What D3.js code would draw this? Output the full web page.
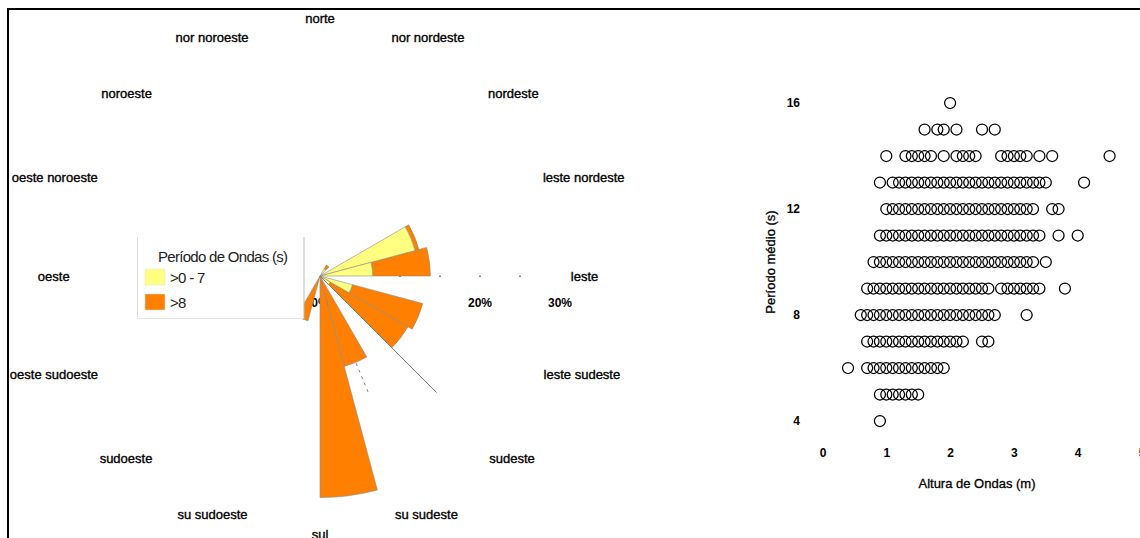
<!DOCTYPE html>
<html><head><meta charset="utf-8">
<script src="https://cdn.jsdelivr.net/npm/d3@7"></script>
<style>
body{margin:0;background:#fff;}
svg{display:block;font-family:"Liberation Sans",Arial,sans-serif;}
</style>
</head><body>
<svg id="c" width="1140" height="538"></svg>
<script>
// ---------- Rosa de ondas (setores de 15°, início de cada setor em graus) ----------
const setoresInicio = [0,15,30,45,60,75,90,105,120,135,150,165,180,195,210,225,240,255,270,285,300,315,330,345];
const pctAte7   = [0,0,1.0,0,12.3,6.6,0,4.2,1.5,0,0,0,0,0,0,0,0,0,0,0,0,0,0,0];
const pctAcima8 = [0,0,0.6,0,0.5,7.2,0,9.1,11.2,0,11.7,27.7,0,5.8,0,0,0,0,0,0,0,0,0,0];
const direcoes = ["norte","nor nordeste","nordeste","leste nordeste","leste","leste sudeste","sudeste","su sudeste",
                  "sul","su sudoeste","sudoeste","oeste sudoeste","oeste","oeste noroeste","noroeste","nor noroeste"];
const ticksRadiais = [0,20,30];
const marcasRadiais = [10,15,20,25];
const guiasDir = [135,157.5];
const guiasDe  = [0,11.8];
const guiasAte = [20.6,15.9];
const legendaTitulo = "Período de Ondas (s)";
const classes = [">0 - 7", ">8"];

// ---------- Dispersão: período médio (s) x altura de ondas (m) ----------
const periodos = [4,5,6,7,8,9,10,11,12,13,14,15,16];
const alturas = [
  [0.9],
  [0.9,1.0,1.1,1.2,1.3,1.4,1.5],
  [0.4,0.7,0.8,0.9,1.0,1.1,1.2,1.3,1.4,1.5,1.6,1.7,1.8,1.9],
  [0.7,0.8,0.9,1.0,1.1,1.2,1.3,1.4,1.5,1.6,1.7,1.8,1.9,2.0,2.1,2.2,2.5,2.6],
  [0.6,0.7,0.8,0.9,1.0,1.1,1.2,1.3,1.4,1.5,1.6,1.7,1.8,1.9,2.0,2.1,2.2,2.3,2.4,2.5,2.6,2.7,3.2],
  [0.7,0.8,0.9,1.0,1.1,1.2,1.3,1.4,1.5,1.6,1.7,1.8,1.9,2.0,2.1,2.2,2.3,2.4,2.5,2.6,2.8,2.9,3.0,3.1,3.2,3.3,3.4,3.8],
  [0.8,0.9,1.0,1.1,1.2,1.3,1.4,1.5,1.6,1.7,1.8,1.9,2.0,2.1,2.2,2.3,2.4,2.5,2.6,2.7,2.8,2.9,3.0,3.1,3.2,3.3,3.5],
  [0.9,1.0,1.1,1.2,1.3,1.4,1.5,1.6,1.7,1.8,1.9,2.0,2.1,2.2,2.3,2.4,2.5,2.6,2.7,2.8,2.9,3.0,3.1,3.2,3.3,3.4,3.7,4.0],
  [1.0,1.1,1.2,1.3,1.4,1.5,1.6,1.7,1.8,1.9,2.0,2.1,2.2,2.3,2.4,2.5,2.6,2.7,2.8,2.9,3.0,3.1,3.2,3.3,3.6,3.7],
  [0.9,1.1,1.2,1.3,1.4,1.5,1.6,1.7,1.8,1.9,2.0,2.1,2.2,2.3,2.4,2.5,2.6,2.7,2.8,2.9,3.0,3.1,3.2,3.3,3.4,3.5,4.1],
  [1.0,1.3,1.4,1.5,1.6,1.7,1.9,2.1,2.2,2.3,2.4,2.8,2.9,3.0,3.1,3.2,3.4,3.6,4.5],
  [1.6,1.8,1.9,2.1,2.5,2.7],
  [2.0]
];
const ticksX = [0,1,2,3,4,5];
const ticksY = [4,8,12,16];
const tituloX = "Altura de Ondas (m)";
const tituloY = "Período médio (s)";

const svg = d3.select("#c");
const cores = ["#FFFF80", "#FF8000"];

// ===== Rosa =====
const cx = 320, cy = 276;
const r = d3.scaleLinear().domain([0, 1]).range([0, 8]);
const rad = d => d * Math.PI / 180;
const rosa = svg.append("g");

// rótulos do eixo radial (abaixo dos setores)
rosa.selectAll("text.tr").data(ticksRadiais).join("text")
  .attr("x", d => cx + r(d)).attr("y", cy + 31)
  .attr("text-anchor", "middle").attr("font-size", 12).attr("font-weight", "bold")
  .text(d => d + "%");
rosa.selectAll("rect.mr").data(marcasRadiais).join("rect")
  .attr("x", d => cx + r(d) - 1).attr("y", cy - 0.5).attr("width", 2).attr("height", 1.5)
  .attr("fill", "#888");

const arc = d3.arc();
const setores = setoresInicio.map((s, i) => ({s, a: pctAte7[i], b: pctAcima8[i]}));
// camada >0-7 (interna) e >8 (externa, empilhada)
rosa.selectAll("path.s8").data(setores.filter(d => d.b > 0)).join("path")
  .attr("transform", `translate(${cx},${cy})`)
  .attr("d", d => arc({innerRadius: r(d.a), outerRadius: r(d.a + d.b), startAngle: rad(d.s), endAngle: rad(d.s + 15)}))
  .attr("fill", cores[1]).attr("stroke", "#8a8a8a").attr("stroke-width", 0.6);
rosa.selectAll("path.s7").data(setores.filter(d => d.a > 0)).join("path")
  .attr("transform", `translate(${cx},${cy})`)
  .attr("d", d => arc({innerRadius: 0, outerRadius: r(d.a), startAngle: rad(d.s), endAngle: rad(d.s + 15)}))
  .attr("fill", cores[0]).attr("stroke", "#8a8a8a").attr("stroke-width", 0.6);

// linhas guia
guiasDir.forEach((g, i) => {
  const t = rad(g);
  rosa.append("line")
    .attr("x1", cx + r(guiasDe[i]) * Math.sin(t)).attr("y1", cy - r(guiasDe[i]) * Math.cos(t))
    .attr("x2", cx + r(guiasAte[i]) * Math.sin(t)).attr("y2", cy - r(guiasAte[i]) * Math.cos(t))
    .attr("stroke", "#808080").attr("stroke-width", 1)
    .attr("stroke-dasharray", i === 1 ? "3,4" : null);
});

// legenda
const lg = svg.append("g");
lg.append("rect").attr("x", 137).attr("y", 237).attr("width", 167).attr("height", 82).attr("fill", "#fff");
lg.append("line").attr("x1", 137.5).attr("y1", 237).attr("x2", 137.5).attr("y2", 319).attr("stroke", "#ddd");
lg.append("line").attr("x1", 137).attr("y1", 318.5).attr("x2", 304).attr("y2", 318.5).attr("stroke", "#e6e6e6");
lg.append("line").attr("x1", 304).attr("y1", 237).attr("x2", 304).attr("y2", 319).attr("stroke", "#bbb");
lg.append("text").attr("x", 158).attr("y", 262).attr("font-size", 15).attr("letter-spacing", -0.7)
  .attr("fill", "#222").text(legendaTitulo);
classes.forEach((c, i) => {
  lg.append("rect").attr("x", 145).attr("y", 269 + i * 25).attr("width", 20).attr("height", 16)
    .attr("fill", cores[i]).attr("stroke", "#ddd").attr("stroke-width", 0.5);
  lg.append("text").attr("x", 170).attr("y", 283 + i * 25).attr("font-size", 15).attr("letter-spacing", -0.7)
    .attr("fill", "#222").text(c);
});

// rótulos das direções
direcoes.forEach((d, i) => {
  const t = rad(i * 22.5);
  const tx = svg.append("text").attr("font-size", 13).attr("text-anchor", "middle")
    .attr("dominant-baseline", "central").attr("stroke", "#000").attr("stroke-width", 0.35).text(d);
  const w = tx.node().getComputedTextLength();
  tx.attr("x", cx + Math.sin(t) * (254 + 0.77 * w / 2)).attr("y", cy - 258 * Math.cos(t));
});

// ===== Dispersão =====
const x = d3.scaleLinear().domain([0, 5]).range([822.5, 1141.5]);
const y = d3.scaleLinear().domain([4, 16]).range([421, 103]);
const pontos = [];
periodos.forEach((p, i) => alturas[i].forEach(h => pontos.push({p, h})));
svg.append("g").selectAll("circle").data(pontos).join("circle")
  .attr("cx", d => x(d.h)).attr("cy", d => y(d.p)).attr("r", 5.5)
  .attr("fill", "none").attr("stroke", "#000").attr("stroke-width", 1.25);

const ax = svg.append("g").attr("transform", "translate(0,453)")
  .call(d3.axisBottom(x).tickValues(ticksX).tickSize(0).tickPadding(0).tickFormat(d3.format("d")));
ax.select(".domain").remove();
ax.selectAll("text").attr("font-size", 12).attr("font-weight", "bold").attr("fill", "#000")
  .attr("dy", "0.35em").attr("font-family", "Liberation Sans, Arial, sans-serif");
const ay = svg.append("g").attr("transform", "translate(800,0)")
  .call(d3.axisLeft(y).tickValues(ticksY).tickSize(0).tickPadding(0).tickFormat(d3.format("d")));
ay.select(".domain").remove();
ay.selectAll("text").attr("font-size", 12).attr("font-weight", "bold").attr("fill", "#000")
  .attr("font-family", "Liberation Sans, Arial, sans-serif");

svg.append("text").attr("x", 977).attr("y", 483).attr("text-anchor", "middle")
  .attr("dominant-baseline", "central").attr("font-size", 13)
  .attr("stroke", "#000").attr("stroke-width", 0.3).text(tituloX);
svg.append("text").attr("transform", "translate(770,262) rotate(-90)").attr("text-anchor", "middle")
  .attr("dominant-baseline", "central").attr("font-size", 13)
  .attr("stroke", "#000").attr("stroke-width", 0.3).text(tituloY);

// moldura
svg.append("path").attr("d", "M8,540 L8,9 L1142,9").attr("fill", "none").attr("stroke", "#000").attr("stroke-width", 2);
</script>
</body></html>
